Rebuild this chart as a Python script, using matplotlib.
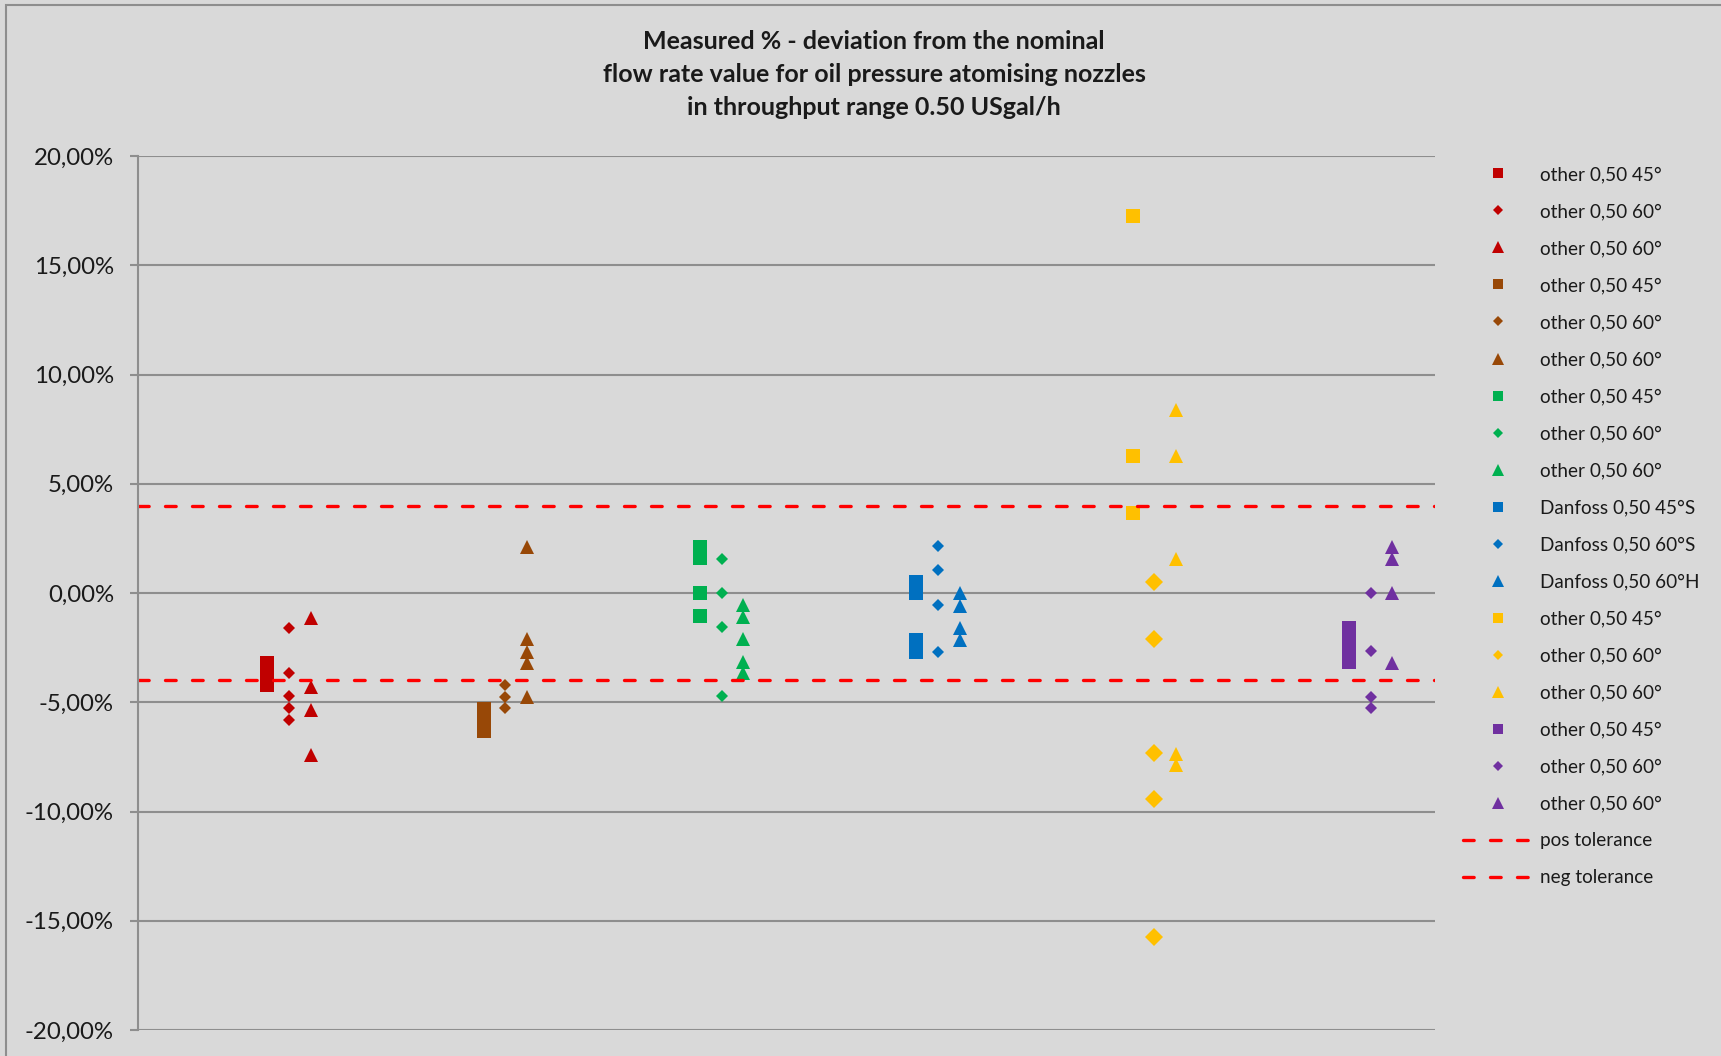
import matplotlib
matplotlib.use("Agg")
import matplotlib.pyplot as plt
from matplotlib.lines import Line2D
from matplotlib.patches import Rectangle
from matplotlib.ticker import FuncFormatter, MultipleLocator

# deviation from nominal flow rate in %, one list per nozzle group and marker
groups = ["red", "brown", "green", "blue", "yellow", "purple"]
colors = ["#C00000", "#984807", "#00B050", "#0070C0", "#FFC000", "#7030A0"]

sq_vals = [
    [-3.2, -3.7, -4.2],
    [-5.3, -5.8, -6.3],
    [2.1, 1.6, 0.0, -1.05],
    [0.5, 0.0, -2.15, -2.7],
    [17.25, 6.27, 3.68],
    [-1.6, -2.1, -2.6, -3.15],
]
dia_vals = [
    [-1.59, -3.68, -4.71, -5.28, -5.81],
    [-4.21, -4.75, -5.28],
    [1.56, 0.0, -1.57, -4.70],
    [2.14, 1.07, -0.55, -2.69],
    [0.52, -2.10, -7.34, -9.43, -15.73],
    [0.0, -2.64, -4.75, -5.28],
]
tri_vals = [
    [-1.13, -4.30, -5.35, -7.43],
    [2.12, -2.12, -2.70, -3.19, -4.77],
    [-0.56, -1.08, -2.12, -3.17, -3.68],
    [0.0, -0.59, -1.62, -2.15],
    [8.38, 6.27, 1.56, -7.35, -7.87],
    [2.09, 1.54, 0.0, -3.19],
]
series_labels = [
    "other 0,50 45°", "other 0,50 60°", "other 0,50 60°",
    "other 0,50 45°", "other 0,50 60°", "other 0,50 60°",
    "other 0,50 45°", "other 0,50 60°", "other 0,50 60°",
    "Danfoss 0,50 45°S", "Danfoss 0,50 60°S", "Danfoss 0,50 60°H",
    "other 0,50 45°", "other 0,50 60°", "other 0,50 60°",
    "other 0,50 45°", "other 0,50 60°", "other 0,50 60°",
]
pos_tol = 4.0
neg_tol = -4.0

title = ("Measured % - deviation from the nominal\n"
         "flow rate value for oil pressure atomising nozzles\n"
         "in throughput range 0.50 USgal/h")

bg = "#D9D9D9"
grid_c = "#8E8E8E"
plt.rcParams["font.family"] = ["Lato", "DejaVu Sans"]

W, H = 1721, 1056
fig = plt.figure(figsize=(W / 100, H / 100), dpi=100, facecolor=bg)
ax = fig.add_axes([137.5 / W, 1 - 1030 / H, (1435.5 - 137.5) / W, (1030 - 156) / H])
ax.set_facecolor(bg)

# chart border, only left and top edge are inside the canvas
fig.patches.append(Rectangle((6 / W, -0.1), 1.2, 1 - 5 / H + 0.1, transform=fig.transFigure,
                             fill=False, edgecolor=grid_c, lw=1.5))

handles = []
for i, c in enumerate(colors):
    y = sq_vals[i]
    ax.plot([i + 0.6] * len(y), y, ls="none", marker="s", ms=10, mfc=c, mec=c, mew=0)
    y = dia_vals[i]
    dms = 8.7 if groups[i] == "yellow" else 6.5
    ax.plot([i + 0.7] * len(y), y, ls="none", marker="D", ms=dms, mfc=c, mec=c, mew=0)
    y = tri_vals[i]
    ax.plot([i + 0.8] * len(y), y, ls="none", marker="^", ms=9.5, mfc=c, mec=c, mew=0)
    handles.append(Line2D([], [], ls="none", marker="s", ms=7.8, mfc=c, mec=c, mew=0))
    handles.append(Line2D([], [], ls="none", marker="D", ms=5.5, mfc=c, mec=c, mew=0))
    handles.append(Line2D([], [], ls="none", marker="^", ms=8.3, mfc=c, mec=c, mew=0))

tol_kw = dict(color="#FF0000", lw=2.4, dashes=(3.2, 4.9), dash_capstyle="round")
ax.axhline(pos_tol, **tol_kw)
ax.axhline(neg_tol, **tol_kw)
handles.append(Line2D([], [], **tol_kw))
handles.append(Line2D([], [], **tol_kw))
labels = series_labels + ["pos tolerance", "neg tolerance"]

ax.set_xlim(0, 6)
ax.set_ylim(-20, 20)
ax.yaxis.set_major_locator(MultipleLocator(5))
ax.yaxis.set_major_formatter(FuncFormatter(lambda v, p: f"{v:.2f}%".replace(".", ",")))
ax.grid(axis="y", color=grid_c, lw=1.5)
ax.set_axisbelow(True)
ax.set_xticks([])
for s in ["top", "right", "bottom"]:
    ax.spines[s].set_visible(False)
ax.spines["left"].set_color(grid_c)
ax.spines["left"].set_linewidth(1.5)
ax.tick_params(axis="y", length=5.5, width=1.5, color=grid_c, pad=11.5,
               labelsize=17.3, labelcolor="#1A1A1A")

fig.text(874 / W, 1 - 30 / H, title, ha="center", va="top", fontsize=18,
         fontweight="bold", color="#1A1A1A", linespacing=1.52)

fig.legend(handles, labels, loc="upper left", bbox_to_anchor=(1463 / W, 1 - 166 / H),
           frameon=False, fontsize=13.6, handlelength=3.7, handletextpad=0.38,
           labelspacing=1.06, labelcolor="#1A1A1A", borderaxespad=0, borderpad=0)

fig.savefig("out.png", dpi=100, facecolor=bg)
